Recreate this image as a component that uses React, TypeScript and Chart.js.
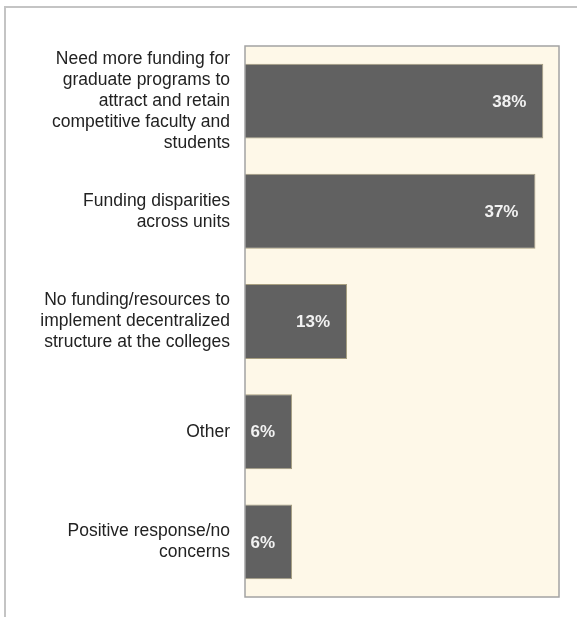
import React, { useEffect, useRef } from "react";
import { Chart, registerables } from "chart.js";

Chart.register(...registerables);

const categories: string[][] = [
  ["Need more funding for", "graduate programs to", "attract and retain", "competitive faculty and", "students"],
  ["Funding disparities", "across units"],
  ["No funding/resources to", "implement decentralized", "structure at the colleges"],
  ["Other"],
  ["Positive response/no", "concerns"],
];
const values: number[] = [38, 37, 13, 6, 6];
const valueLabels: string[] = ["38%", "37%", "13%", "6%", "6%"];
const axisMax = 40;

const FONT = "'Liberation Sans', Arial, Helvetica, sans-serif";

export default function App() {
  const ref = useRef<HTMLCanvasElement | null>(null);

  useEffect(() => {
    if (!ref.current) return;
    const framePlugin = {
      id: "frame",
      beforeDraw(chart: any) {
        const { ctx, chartArea } = chart;
        ctx.save();
        ctx.fillStyle = "#ffffff";
        ctx.fillRect(0, 0, chart.width, chart.height);
        // outer frame lines
        ctx.strokeStyle = "#c4c4c4";
        ctx.lineWidth = 2;
        ctx.beginPath();
        ctx.moveTo(5, chart.height);
        ctx.lineTo(5, 7);
        ctx.lineTo(chart.width, 7);
        ctx.stroke();
        // plot background
        ctx.fillStyle = "#fef8e8";
        ctx.fillRect(chartArea.left, chartArea.top, chartArea.right - chartArea.left, chartArea.bottom - chartArea.top);
        ctx.restore();
      },
      afterDatasetsDraw(chart: any) {
        const { ctx, chartArea } = chart;
        ctx.save();
        ctx.strokeStyle = "#a3a3a3";
        ctx.lineWidth = 1.5;
        ctx.strokeRect(chartArea.left, chartArea.top, chartArea.right - chartArea.left, chartArea.bottom - chartArea.top);
        const meta = chart.getDatasetMeta(0);
        ctx.fillStyle = "#f2f2f2";
        ctx.font = `bold 17px ${FONT}`;
        ctx.textAlign = "right";
        ctx.textBaseline = "middle";
        meta.data.forEach((bar: any, i: number) => {
          ctx.fillText(valueLabels[i], bar.x - 17, bar.y + 1);
        });
        ctx.restore();
      },
    };

    const chart = new Chart(ref.current, {
      type: "bar",
      data: {
        labels: categories,
        datasets: [
          {
            data: values,
            backgroundColor: "#616161",
            borderColor: "#a89f80",
            borderWidth: 1,
            barPercentage: 0.68,
            categoryPercentage: 1,
          },
        ],
      },
      options: {
        indexAxis: "y",
        animation: false,
        responsive: false,
        devicePixelRatio: 1,
        layout: { padding: { left: 0, top: 46, right: 18, bottom: 20 } },
        plugins: {
          legend: { display: false },
          tooltip: { enabled: false },
        },
        scales: {
          x: {
            display: false,
            min: 0,
            max: axisMax,
          },
          y: {
            afterFit(scale: any) {
              scale.width = 245;
              scale.paddingTop = 0;
              scale.paddingBottom = 0;
            },
            grid: { display: false, drawTicks: false },
            border: { display: false },
            ticks: {
              padding: 15,
              color: "#222222",
              font: { family: FONT, size: 17.5, lineHeight: 1.2 },
            },
          },
        },
      },
      plugins: [framePlugin],
    });
    return () => chart.destroy();
  }, []);

  return (
    <div style={{ position: "absolute", left: 0, top: 0, width: 577, height: 617 }}>
      <canvas ref={ref} width={577} height={617} style={{ display: "block" }} />
    </div>
  );
}
